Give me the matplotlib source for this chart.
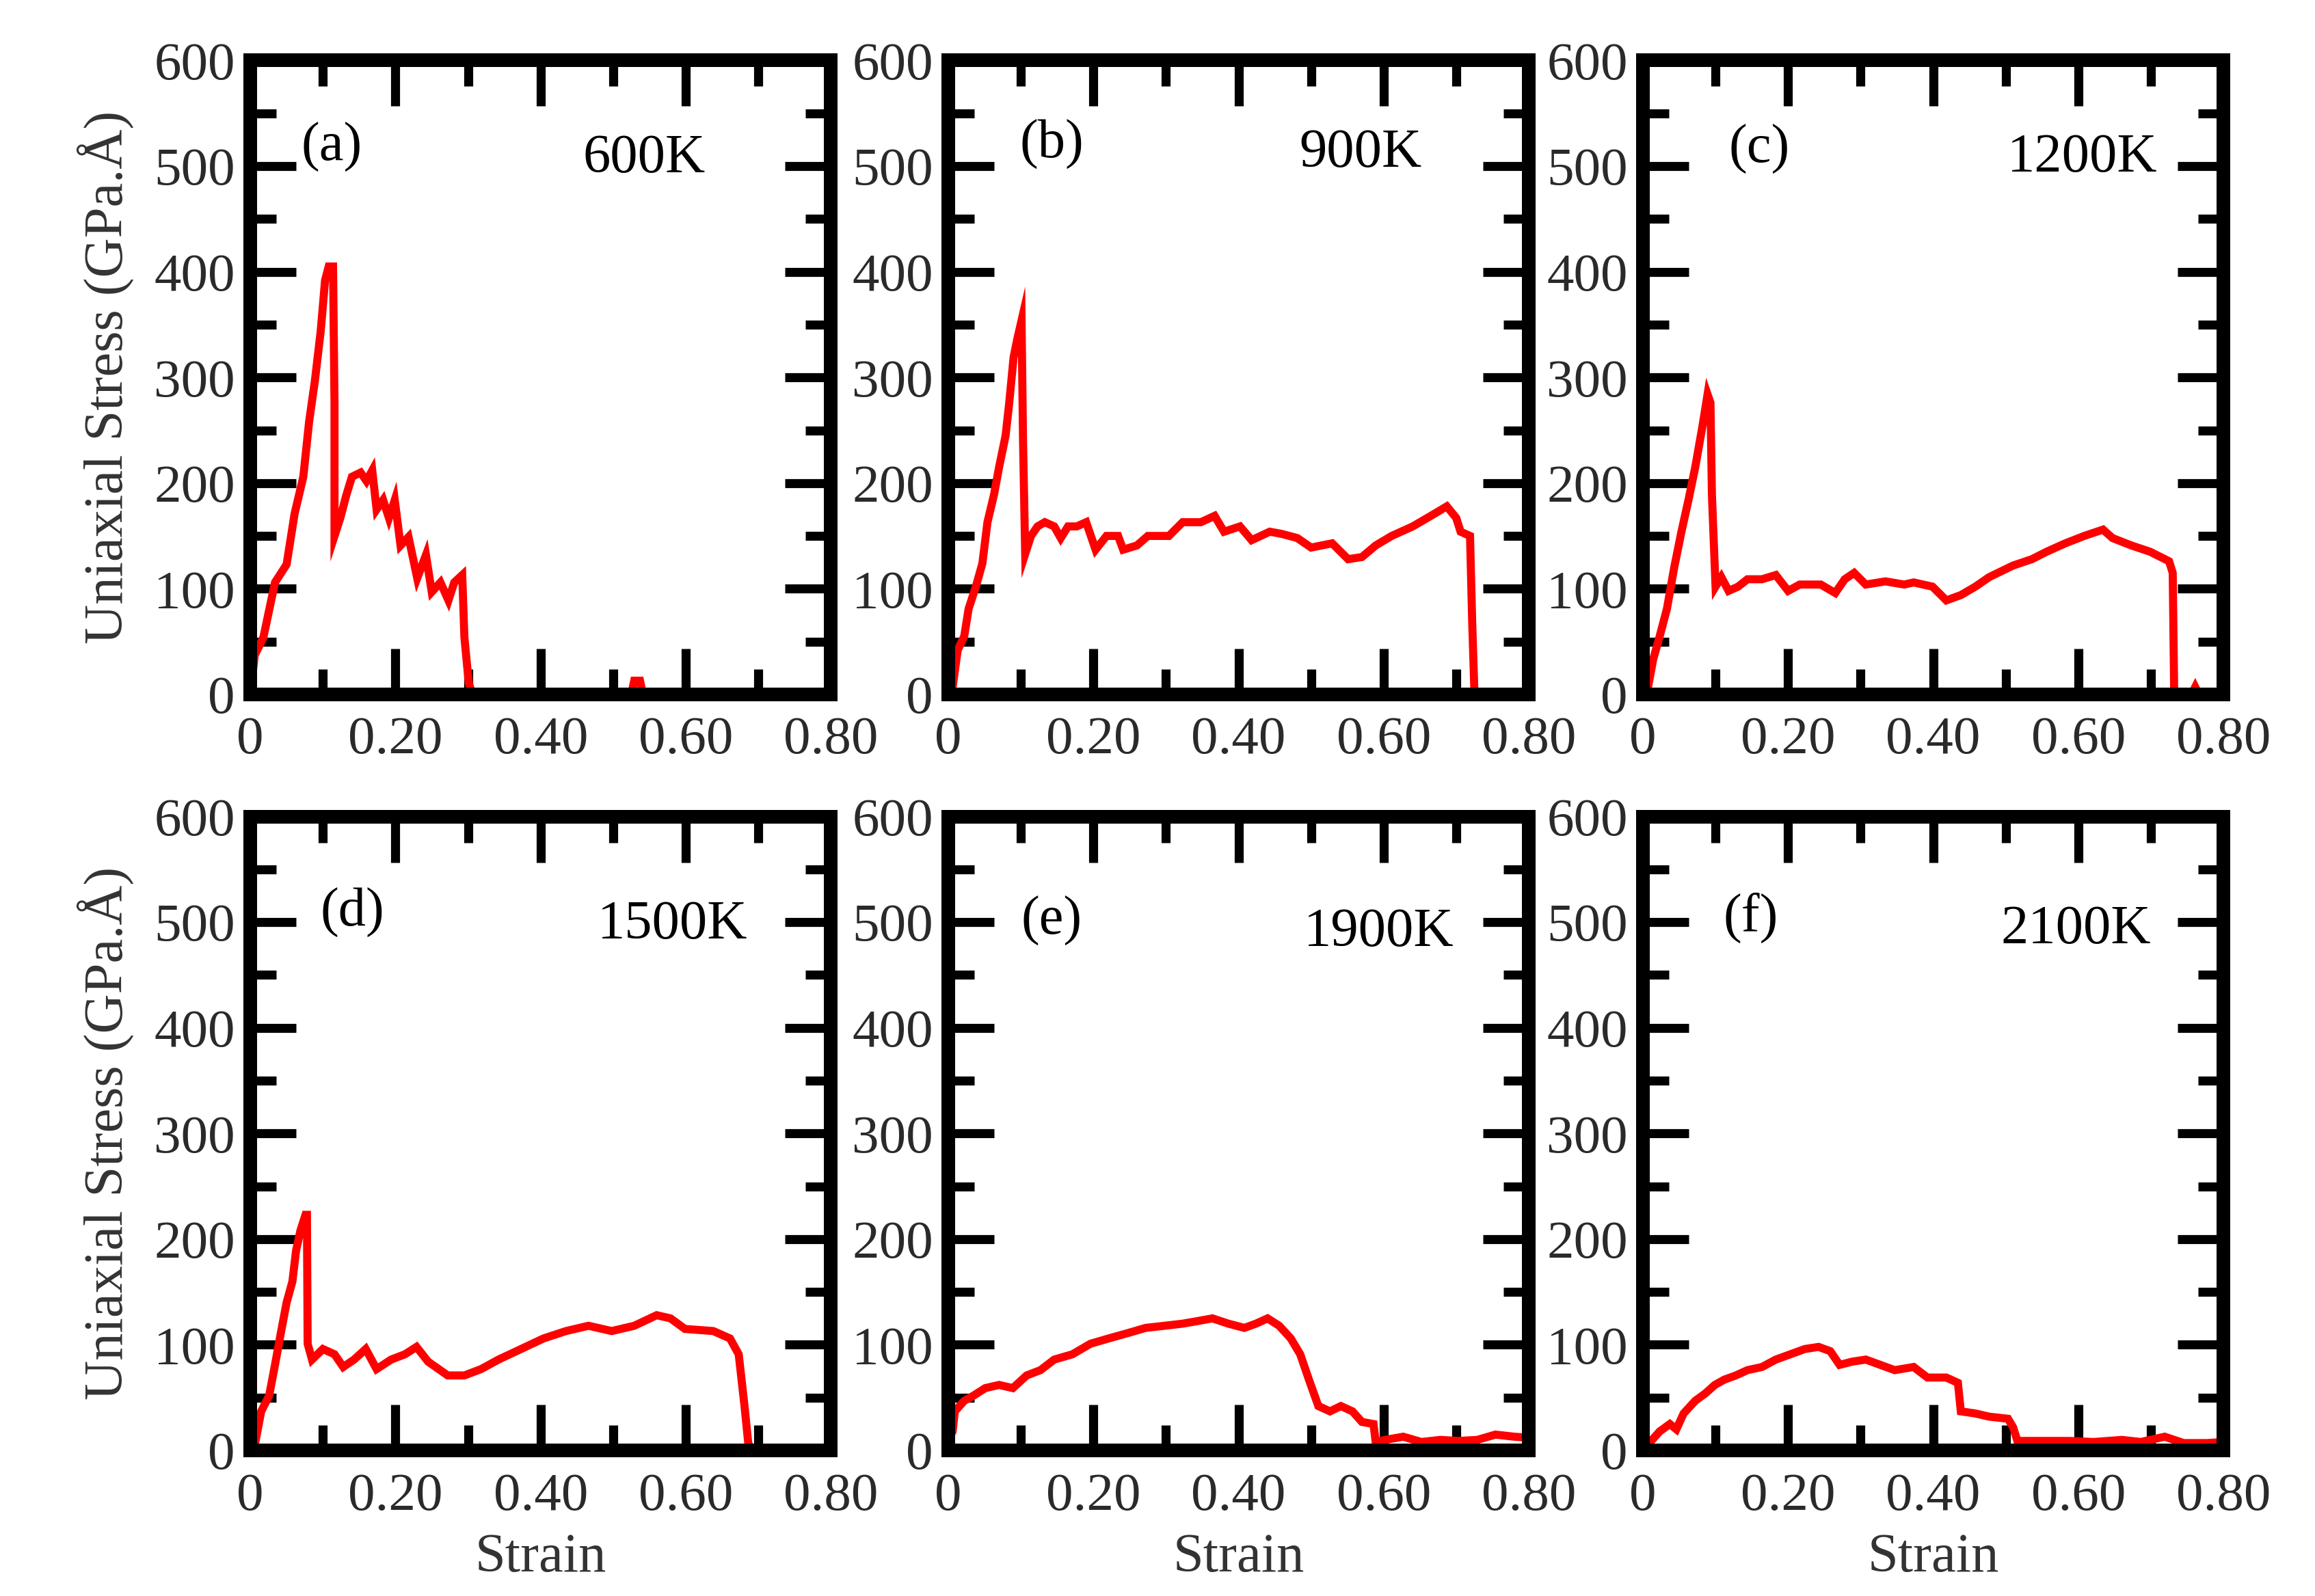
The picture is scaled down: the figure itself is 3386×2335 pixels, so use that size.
import matplotlib
matplotlib.use("Agg")
import matplotlib.pyplot as plt
from matplotlib.ticker import MultipleLocator, FixedFormatter, FixedLocator

plt.rcParams['font.family'] = ['Liberation Serif', 'DejaVu Serif']

# ---- data (strain, stress in GPa.A) ----
# (a) 600K
xa = [0, 0.006, 0.018, 0.034, 0.05, 0.061, 0.073, 0.081, 0.089, 0.097, 0.103, 0.108, 0.114,
      0.116, 0.116, 0.124, 0.132, 0.14, 0.152, 0.16, 0.168, 0.174, 0.183, 0.191, 0.199, 0.207,
      0.218, 0.23, 0.242, 0.25, 0.262, 0.273, 0.281, 0.292, 0.295, 0.301, 0.305, 0.313,
      0.525, 0.529, 0.537, 0.541, 0.8]
ya = [0, 37, 54, 106, 123, 171, 206, 258, 297, 344, 392, 405, 405,
      275, 150, 167, 188, 206, 210, 202, 212, 175, 184, 167, 184, 141,
      149, 110, 132, 97, 106, 89, 106, 113, 54, 11, 2, 0,
      0, 13, 13, 0, 0]

# (b) 900K
xb = [0, 0.006, 0.013, 0.022, 0.028, 0.038, 0.047, 0.054, 0.063, 0.07, 0.079, 0.084, 0.09,
      0.095, 0.101, 0.103, 0.106, 0.114, 0.123, 0.133, 0.146, 0.155, 0.165, 0.177, 0.19,
      0.203, 0.218, 0.234, 0.241, 0.26, 0.275, 0.304, 0.323, 0.348, 0.367, 0.38, 0.402,
      0.418, 0.443, 0.459, 0.481, 0.5, 0.529, 0.551, 0.57, 0.589, 0.611, 0.64, 0.665,
      0.687, 0.70, 0.706, 0.719, 0.722, 0.725, 0.728, 0.8]
yb = [0, 7, 42, 55, 81, 102, 124, 163, 189, 215, 245, 276, 319,
      336, 354, 241, 133, 150, 159, 163, 159, 148, 159, 159, 163,
      137, 150, 150, 137, 141, 150, 150, 163, 163, 169, 154, 159,
      146, 154, 152, 148, 139, 143, 128, 130, 141, 150, 159, 169,
      178, 167, 154, 150, 68, 3, 0, 0]

# (c) 1200K
xc = [0, 0.007, 0.014, 0.023, 0.033, 0.043, 0.053, 0.063, 0.072, 0.082, 0.089, 0.093,
      0.095, 0.1, 0.108, 0.118, 0.131, 0.144, 0.164, 0.183, 0.2, 0.216, 0.245, 0.265,
      0.278, 0.291, 0.307, 0.334, 0.36, 0.373, 0.399, 0.418, 0.438, 0.458, 0.477, 0.51,
      0.536, 0.556, 0.582, 0.608, 0.634, 0.647, 0.673, 0.699, 0.725, 0.73, 0.732, 0.735,
      0.756, 0.761, 0.766, 0.8]
yc = [0, 7, 33, 55, 81, 120, 154, 185, 215, 254, 284, 276,
      189, 102, 111, 98, 102, 109, 109, 113, 98, 104, 104, 96,
      109, 115, 104, 107, 104, 106, 102, 89, 94, 102, 111, 122,
      128, 135, 143, 150, 156, 148, 141, 135, 126, 115, 3, 0,
      0, 7, 0, 0]

# (d) 1500K
xd = [0, 0.007, 0.015, 0.026, 0.034, 0.042, 0.05, 0.058, 0.063, 0.069, 0.076, 0.078,
      0.079, 0.085, 0.1, 0.116, 0.128, 0.143, 0.159, 0.174, 0.194, 0.213, 0.229, 0.245,
      0.272, 0.295, 0.318, 0.342, 0.373, 0.404, 0.435, 0.466, 0.498, 0.529, 0.56, 0.579,
      0.599, 0.638, 0.661, 0.673, 0.681, 0.686, 0.689, 0.8]
yd = [0, 8, 37, 52, 81, 111, 140, 160, 189, 208, 223, 223,
      101, 86, 96, 91, 79, 86, 96, 77, 86, 91, 98, 84,
      71, 71, 77, 86, 96, 106, 113, 118, 113, 118, 128, 125,
      115, 113, 106, 91, 42, 8, 0, 0]

# (e) 1900K
xe = [0, 0.006, 0.009, 0.022, 0.035, 0.051, 0.07, 0.089, 0.108, 0.127, 0.146, 0.171,
      0.196, 0.221, 0.247, 0.272, 0.298, 0.323, 0.348, 0.364, 0.386, 0.408, 0.424, 0.44,
      0.456, 0.472, 0.485, 0.497, 0.51, 0.526, 0.541, 0.557, 0.57, 0.586, 0.589, 0.602,
      0.627, 0.652, 0.678, 0.703, 0.729, 0.754, 0.78, 0.8]
ye = [10, 18, 37, 47, 52, 59, 62, 59, 71, 76, 86, 91,
      101, 106, 111, 116, 118, 120, 123, 125, 120, 116, 120, 125,
      118, 106, 91, 67, 42, 37, 42, 37, 27, 25, 8, 10,
      13, 8, 10, 9, 10, 15, 13, 12]

# (f) 2100K
xf = [0, 0.01, 0.023, 0.037, 0.046, 0.056, 0.072, 0.086, 0.099, 0.112, 0.128, 0.144,
      0.164, 0.183, 0.203, 0.223, 0.242, 0.258, 0.271, 0.288, 0.307, 0.327, 0.347, 0.373,
      0.392, 0.418, 0.434, 0.438, 0.458, 0.477, 0.503, 0.51, 0.516, 0.542, 0.588, 0.621,
      0.66, 0.686, 0.719, 0.745, 0.777, 0.8]
yf = [0, 8, 18, 25, 20, 35, 47, 54, 62, 67, 71, 76,
      79, 86, 91, 96, 98, 94, 81, 84, 86, 81, 76, 79,
      69, 69, 64, 37, 35, 32, 30, 22, 9, 9, 9, 8,
      10, 8, 13, 7, 7, 8]

series = [(xa, ya), (xb, yb), (xc, yc), (xd, yd), (xe, ye), (xf, yf)]
tags = ['(a)', '(b)', '(c)', '(d)', '(e)', '(f)']
temps = ['600K', '900K', '1200K', '1500K', '1900K', '2100K']

xticks = [0, 0.2, 0.4, 0.6, 0.8]
xticklabels = ['0', '0.20', '0.40', '0.60', '0.80']
yticks = [0, 100, 200, 300, 400, 500, 600]

# ---- layout ----
fig = plt.figure(figsize=(33.87, 23.35), dpi=100)
lefts = [0.1081, 0.4095, 0.7095]
bottoms = [0.5649, 0.0912]
w, h = 0.2507, 0.3972

# text positions in axes fraction (tag left/baseline, temp right/baseline)
tag_pos = [(0.087, 0.842), (0.123, 0.847), (0.148, 0.839),
           (0.120, 0.827), (0.126, 0.814), (0.138, 0.819)]
temp_pos = [(0.784, 0.824), (0.816, 0.832), (0.886, 0.825),
            (0.857, 0.808), (0.871, 0.796), (0.875, 0.800)]

tick_col = '#2a2a2a'
for i in range(6):
    r, c = divmod(i, 3)
    ax = fig.add_axes([lefts[c], bottoms[r], w, h])
    x, y = series[i]
    ax.plot(x, y, color='red', lw=8.5, solid_joinstyle='miter', zorder=2)

    ax.set_xlim(0, 0.8)
    ax.set_ylim(0, 600)
    ax.xaxis.set_major_locator(FixedLocator(xticks))
    ax.xaxis.set_major_formatter(FixedFormatter(xticklabels))
    ax.xaxis.set_minor_locator(MultipleLocator(0.1))
    ax.yaxis.set_major_locator(FixedLocator(yticks))
    ax.yaxis.set_minor_locator(MultipleLocator(50))

    for s in ax.spines.values():
        s.set_linewidth(14.4)
        s.set_zorder(3)
    ax.tick_params(which='both', direction='in', top=True, right=True,
                   width=9.5, color='black', labelsize=57, labelcolor=tick_col)
    ax.tick_params(which='major', length=48)
    ax.tick_params(which='minor', length=27)
    ax.tick_params(axis='x', pad=23)
    ax.tick_params(axis='y', pad=16)

    if c == 0:
        ax.set_ylabel('Uniaxial Stress (GPa.Å)', fontsize=58, color='#333333')
        ax.yaxis.set_label_coords(-0.20, 0.5)
    if r == 1:
        ax.set_xlabel('Strain', fontsize=58, color='#333333')
        ax.xaxis.set_label_coords(0.5, -0.13)

    ax.text(tag_pos[i][0], tag_pos[i][1], tags[i], transform=ax.transAxes,
            ha='left', va='baseline', fontsize=58, color='black')
    ax.text(temp_pos[i][0], temp_pos[i][1], temps[i], transform=ax.transAxes,
            ha='right', va='baseline', fontsize=58, color='black')

fig.savefig('out.png', dpi=100, facecolor='white')
